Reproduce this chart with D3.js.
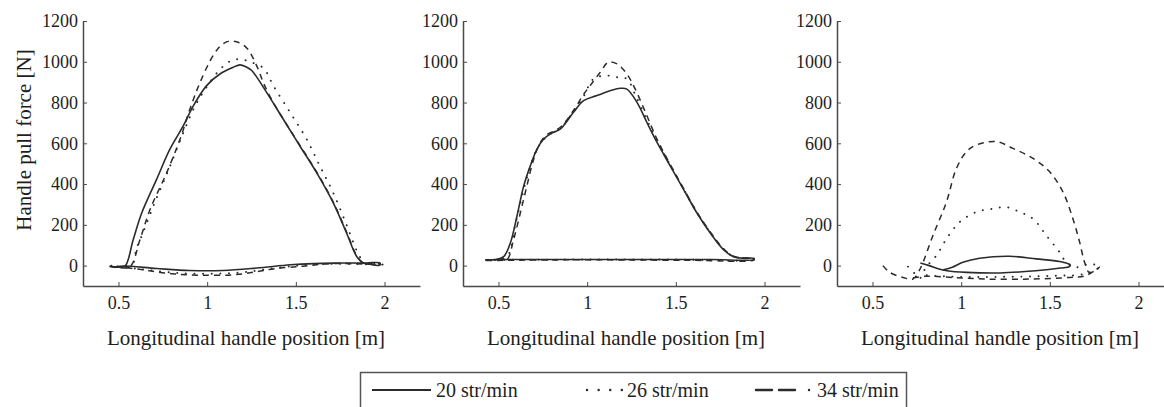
<!DOCTYPE html>
<html>
<head>
<meta charset="utf-8">
<script src="https://cdn.jsdelivr.net/npm/d3@7"></script>
<style>
  html, body { margin: 0; padding: 0; background: #fff; }
  svg { display: block; }
  text { font-family: "Liberation Serif", "DejaVu Serif", serif; fill: #1e1e1e; }
</style>
</head>
<body>
<svg id="chart" width="1164" height="407"></svg>
<script>
// Handle force vs. handle position loops, three panels, three stroke rates.
const xTicks = [0.5, 1, 1.5, 2];
const xTickLabels = ["0.5", "1", "1.5", "2"];
const yTicks = [0, 200, 400, 600, 800, 1000, 1200];
const seriesNames = ["20 str/min", "26 str/min", "34 str/min"];
const xLabel = "Longitudinal handle position [m]";
const yLabel = "Handle pull force [N]";

// Panel 1 ([position m, force N])
const p1Rate20 = [[0.45,-2],[0.50,-8],[0.537,-3],[0.583,127],[0.631,258],[0.715,423],[0.79,571],[0.865,685],[0.922,784],[0.997,883],[1.072,940],[1.147,973],[1.185,985],[1.22,975],[1.251,957],[1.335,850],[1.429,718],[1.523,587],[1.617,456],[1.711,308],[1.786,160],[1.843,45],[1.88,14],[1.93,15],[1.975,13],[1.97,2],[1.88,12],[1.71,12],[1.60,10],[1.47,4],[1.28,-12],[1.09,-24],[0.90,-24],[0.715,-14],[0.527,-2],[0.47,-6],[0.45,-2]];
const p1Rate26 = [[0.46,0],[0.52,-6],[0.575,-3],[0.60,80],[0.64,165],[0.70,300],[0.78,465],[0.86,640],[0.93,780],[1.00,880],[1.07,960],[1.13,1003],[1.18,1013],[1.24,1000],[1.316,970],[1.373,883],[1.467,752],[1.561,620],[1.636,488],[1.711,357],[1.786,200],[1.85,62],[1.89,12],[1.96,12],[1.99,4],[1.85,8],[1.60,6],[1.40,-10],[1.20,-33],[1.00,-40],[0.80,-34],[0.62,-17],[0.46,0]];
const p1Rate34 = [[0.45,-5],[0.50,-10],[0.565,-5],[0.621,127],[0.678,275],[0.772,456],[0.847,620],[0.903,768],[0.96,899],[1.034,1031],[1.08,1082],[1.12,1100],[1.166,1098],[1.223,1068],[1.279,981],[1.316,899],[1.36,820],[1.43,718],[1.523,590],[1.617,460],[1.711,312],[1.786,165],[1.843,50],[1.88,14],[1.95,14],[1.98,5],[1.88,8],[1.70,10],[1.54,-3],[1.38,-15],[1.28,-30],[1.15,-45],[0.96,-47],[0.80,-40],[0.65,-22],[0.52,-8],[0.45,-5]];

// Panel 2
const p2Rate20 = [[0.426,28],[0.48,30],[0.529,44],[0.567,111],[0.604,242],[0.642,390],[0.679,488],[0.717,571],[0.754,620],[0.80,650],[0.848,669],[0.923,752],[0.98,809],[1.055,834],[1.13,858],[1.187,870],[1.224,866],[1.281,801],[1.337,702],[1.394,604],[1.469,488],[1.544,373],[1.619,258],[1.694,160],[1.769,78],[1.825,44],[1.882,36],[1.938,36],[1.94,30],[1.70,30],[1.40,30],[1.10,30],[0.80,30],[0.55,30],[0.426,28]];
const p2Rate26 = [[0.43,28],[0.52,32],[0.56,60],[0.59,180],[0.63,330],[0.67,460],[0.71,560],[0.75,615],[0.80,650],[0.85,675],[0.93,765],[0.98,830],[1.036,916],[1.112,932],[1.168,924],[1.224,916],[1.27,840],[1.337,715],[1.394,612],[1.469,492],[1.544,375],[1.619,260],[1.694,162],[1.769,80],[1.825,45],[1.88,38],[1.94,35],[1.94,30],[1.50,30],[1.00,30],[0.43,28]];
const p2Rate34 = [[0.43,25],[0.50,28],[0.548,30],[0.585,127],[0.623,258],[0.66,390],[0.698,521],[0.736,604],[0.77,640],[0.85,680],[0.93,770],[0.98,840],[1.017,883],[1.074,949],[1.12,998],[1.168,990],[1.224,940],[1.271,866],[1.337,735],[1.394,620],[1.469,495],[1.544,378],[1.619,262],[1.694,165],[1.769,82],[1.825,46],[1.882,38],[1.94,36],[1.94,28],[1.60,26],[1.20,28],[0.80,28],[0.43,25]];

// Panel 3
const p3Rate20 = [[0.77,13],[0.82,0],[0.87,-15],[0.92,-25],[1.03,-33],[1.22,-36],[1.42,-25],[1.56,-12],[1.61,-5],[1.615,3],[1.555,20],[1.424,33],[1.273,46],[1.104,36],[1.01,16],[0.95,-8],[0.90,-20]];
const p3Rate26 = [[0.70,-5],[0.74,-40],[0.77,-60],[0.80,-10],[0.86,49],[0.917,131],[0.992,214],[1.086,263],[1.18,279],[1.255,287],[1.33,263],[1.405,230],[1.48,148],[1.555,66],[1.593,16],[1.65,-8],[1.724,8],[1.78,-5],[1.70,-40],[1.518,-50],[1.236,-55],[1.00,-55],[0.85,-50],[0.78,-45]];
const p3Rate34 = [[0.559,0],[0.597,-33],[0.672,-58],[0.728,-66],[0.76,-30],[0.785,16],[0.841,148],[0.917,312],[0.973,476],[1.03,559],[1.086,592],[1.199,608],[1.292,575],[1.405,526],[1.499,460],[1.574,361],[1.63,230],[1.668,115],[1.696,16],[1.724,-35],[1.78,-8],[1.70,-50],[1.612,-58],[1.386,-66],[1.142,-66],[0.954,-58],[0.80,-52],[0.728,-60]];

const panels = [
  { left: 83,  series: [p1Rate20, p1Rate26, p1Rate34], showYLabel: true },
  { left: 463, series: [p2Rate20, p2Rate26, p2Rate34], showYLabel: false },
  { left: 837, series: [p3Rate20, p3Rate26, p3Rate34], showYLabel: false }
];

const lineStyles = [
  { dash: null,  width: 1.6, cap: "butt" },
  { dash: "0.1,8.5", width: 1.9, cap: "round" },
  { dash: "6,5", width: 1.5, cap: "butt" }
];
const ink = "#2b2b2b";
const axisInk = "#4a4a4a";

const svg = d3.select("#chart");
const plotTop = 21, plotBottom = 286, plotWidth = 337;

panels.forEach(p => {
  const x = d3.scaleLinear().domain([0.3, 2.2]).range([p.left, p.left + plotWidth]);
  const y = d3.scaleLinear().domain([-100, 1200]).range([plotBottom, plotTop]);
  const g = svg.append("g");

  const line = d3.line().x(d => x(d[0])).y(d => y(d[1])).curve(d3.curveCatmullRom.alpha(0.5));
  p.series.forEach((s, i) => {
    const st = lineStyles[i];
    g.append("path")
      .attr("d", line(s))
      .attr("fill", "none")
      .attr("stroke", ink)
      .attr("stroke-width", st.width)
      .attr("stroke-linecap", st.cap)
      .attr("stroke-linejoin", "round")
      .attr("stroke-dasharray", st.dash);
  });

  const xAxis = d3.axisBottom(x).tickValues(xTicks)
    .tickFormat((d, i) => xTickLabels[i]).tickSizeInner(-4).tickSizeOuter(0).tickPadding(10);
  const gx = g.append("g").attr("transform", `translate(0,${plotBottom})`).call(xAxis);
  const yAxis = d3.axisLeft(y).tickValues(yTicks).tickFormat(d3.format("d"))
    .tickSizeInner(-4).tickSizeOuter(0).tickPadding(5);
  const gy = g.append("g").attr("transform", `translate(${p.left},0)`).call(yAxis);

  [gx, gy].forEach(a => {
    a.select(".domain").attr("stroke", axisInk).attr("stroke-width", 1.5);
    a.selectAll(".tick line").attr("stroke", axisInk).attr("stroke-width", 1);
    a.selectAll(".tick text").style("font-family", '"Liberation Serif", serif')
      .style("font-size", "18px").attr("fill", "#1e1e1e");
  });
  gx.selectAll(".tick text").attr("dy", "0.71em");

  g.append("text")
    .attr("x", p.left + 163).attr("y", 338)
    .attr("text-anchor", "middle").attr("dominant-baseline", "central")
    .style("font-size", "21px")
    .text(xLabel);

  if (p.showYLabel) {
    g.append("text")
      .attr("transform", "translate(24,140) rotate(-90)")
      .attr("text-anchor", "middle").attr("dominant-baseline", "central")
      .style("font-size", "21px")
      .text(yLabel);
  }
});

// Legend
const legend = svg.append("g");
legend.append("rect")
  .attr("x", 360.5).attr("y", 372.5).attr("width", 546).attr("height", 60)
  .attr("fill", "#fff").attr("stroke", "#555").attr("stroke-width", 1.5);
const legendItems = [
  { x1: 372, x2: 431, tx: 436, dash: null },
  { x1: 587, x2: 622, tx: 627, dash: "0.1,11.5" },
  { x1: 756, x2: 812, tx: 817, dash: "16,7,16,14,0.1,30" }
];
legendItems.forEach((it, i) => {
  legend.append("line")
    .attr("x1", it.x1).attr("x2", it.x2).attr("y1", 390).attr("y2", 390)
    .attr("stroke", ink).attr("stroke-width", i === 0 ? 2.2 : 2.4)
    .attr("stroke-linecap", i === 0 ? "butt" : "round")
    .attr("stroke-dasharray", it.dash);
  legend.append("text")
    .attr("x", it.tx).attr("y", 390).attr("dominant-baseline", "central")
    .style("font-size", "20px")
    .text(seriesNames[i]);
});
</script>
</body>
</html>
